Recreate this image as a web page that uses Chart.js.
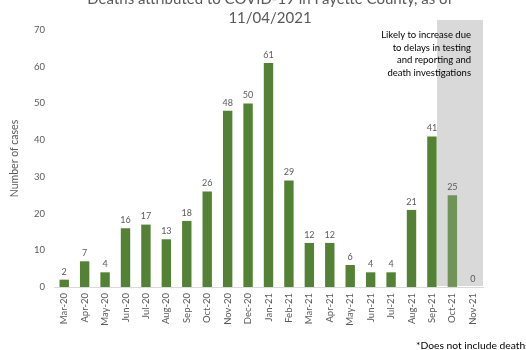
<!DOCTYPE html>
<html>
<head>
<meta charset="utf-8">
<script src="https://cdn.jsdelivr.net/npm/chart.js@4"></script>
<style>
  html, body { margin: 0; padding: 0; background: #ffffff; }
  #wrap { width: 526px; height: 350px; position: relative; overflow: hidden; }
</style>
</head>
<body>
<div id="wrap"><canvas id="c" width="526" height="350"></canvas></div>
<script>
// Monthly deaths attributed to COVID-19, Fayette County
const months = ['Mar-20','Apr-20','May-20','Jun-20','Jul-20','Aug-20','Sep-20','Oct-20','Nov-20','Dec-20','Jan-21','Feb-21','Mar-21','Apr-21','May-21','Jun-21','Jul-21','Aug-21','Sep-21','Oct-21','Nov-21'];
const deaths = [2, 7, 4, 16, 17, 13, 18, 26, 48, 50, 61, 29, 12, 12, 6, 4, 4, 21, 41, 25, 0];
const yTicks = [0, 10, 20, 30, 40, 50, 60, 70];
// Months still subject to revision
const provisionalMonths = ['Oct-21', 'Nov-21'];

const titleLines = ['Deaths attributed to COVID-19 in Fayette County, as of', '11/04/2021'];
const noteLines = ['Likely to increase due', 'to delays in testing', 'and reporting and', 'death investigations'];
const footnote = '*Does not include deaths';

const GREEN = '#548235';
const GREEN_SOFT = 'rgba(84,130,53,0.8)';
const FONT = 'Lato, "Open Sans", sans-serif';

const barColors = months.map(m => provisionalMonths.includes(m) ? GREEN_SOFT : GREEN);

// Shaded band behind the provisional months
const bandPlugin = {
  id: 'band',
  beforeDatasetsDraw(chart) {
    const { ctx, chartArea } = chart;
    const x = chart.scales.x;
    const first = months.indexOf(provisionalMonths[0]);
    const step = x.getPixelForValue(1) - x.getPixelForValue(0);
    const left = x.getPixelForValue(first) - step * 0.75;
    ctx.save();
    ctx.fillStyle = '#d9d9d9';
    ctx.fillRect(left, chartArea.top - 10, chartArea.right - left, chartArea.bottom - 1 - (chartArea.top - 10));
    ctx.restore();
  }
};

// Value labels, title, note and footnote
const textPlugin = {
  id: 'texts',
  afterDatasetsDraw(chart) {
    const { ctx } = chart;
    const meta = chart.getDatasetMeta(0);
    ctx.save();
    ctx.fillStyle = '#595959';
    ctx.font = '9px ' + FONT;
    ctx.textAlign = 'center';
    ctx.textBaseline = 'middle';
    meta.data.forEach((bar, i) => {
      ctx.fillText(String(deaths[i]), bar.x, bar.y - 8);
    });

    ctx.font = '15px ' + FONT;
    ctx.fillStyle = '#595959';
    titleLines.forEach((t, i) => ctx.fillText(t, 270, -1 + i * 19));

    ctx.font = '9.5px ' + FONT;
    ctx.fillStyle = '#000000';
    ctx.textAlign = 'right';
    noteLines.forEach((t, i) => ctx.fillText(t, 471, 35 + i * 12.6));

    ctx.font = '10.3px ' + FONT;
    ctx.textAlign = 'left';
    ctx.fillText(footnote, 416, 346);
    ctx.restore();
  }
};

new Chart(document.getElementById('c'), {
  type: 'bar',
  data: {
    labels: months,
    datasets: [{
      data: deaths,
      backgroundColor: barColors,
      borderWidth: 0,
      categoryPercentage: 1,
      barPercentage: 0.46
    }]
  },
  options: {
    responsive: false,
    animation: false,
    events: [],
    layout: { padding: { left: 0, top: 30, right: 43, bottom: 0 } },
    plugins: {
      legend: { display: false },
      title: { display: false },
      tooltip: { enabled: false }
    },
    scales: {
      x: {
        grid: { display: false, drawTicks: false },
        border: { display: true, color: '#d9d9d9', width: 1 },
        ticks: {
          color: '#595959',
          font: { size: 9.5, family: FONT },
          maxRotation: 90,
          minRotation: 90,
          padding: 6,
          autoSkip: false
        },
        afterFit(scale) { scale.height = 63; }
      },
      y: {
        min: 0,
        max: 70,
        afterBuildTicks(scale) { scale.ticks = yTicks.map(v => ({ value: v })); },
        grid: { display: false, drawTicks: false },
        border: { display: false },
        ticks: {
          color: '#595959',
          font: { size: 9.5, family: FONT },
          padding: 9
        },
        title: {
          display: true,
          text: 'Number of cases',
          color: '#595959',
          font: { size: 10.5, family: FONT },
          padding: { top: 8, bottom: 0 }
        },
        afterFit(scale) { scale.width = 54; }
      }
    }
  },
  plugins: [bandPlugin, textPlugin]
});
</script>
</body>
</html>
